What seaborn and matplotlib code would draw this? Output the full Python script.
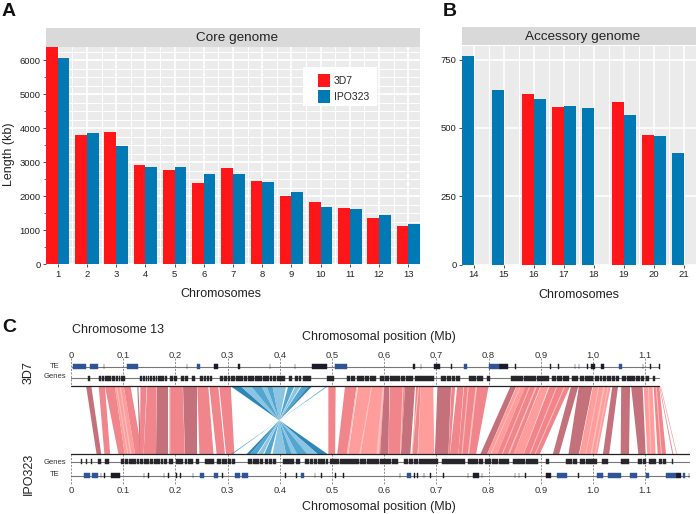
import numpy as np
import pandas as pd
import matplotlib
matplotlib.use('Agg')
import matplotlib.pyplot as plt
from matplotlib.patches import Rectangle
import seaborn as sns
from matplotlib.ticker import MultipleLocator

sns.set_theme(style='ticks')
plt.rcParams['font.family'] = ['Liberation Sans', 'DejaVu Sans']

# panel A
core_chrom = [str(i) for i in range(1, 14)]
core_3d7 = [6400, 3810, 3890, 2920, 2770, 2400, 2820, 2440, 2010, 1830, 1650, 1360, 1120]
core_ipo = [6080, 3850, 3490, 2870, 2850, 2660, 2650, 2430, 2130, 1670, 1620, 1450, 1180]

# panel B, nan where the strain has no such chromosome
acc_chrom = [str(i) for i in range(14, 22)]
acc_3d7 = [np.nan, np.nan, 623, 578, np.nan, 595, 473, np.nan]
acc_ipo = [762, 638, 605, 582, 573, 548, 470, 407]

# panel C synteny ribbons in Mb: top start, top end, bottom start, bottom end, shade
red_ribbons = [
    (0.029, 0.039, 0.049, 0.058, 'd'), (0.053, 0.065, 0.064, 0.075, 'm'),
    (0.065, 0.084, 0.091, 0.103, 'm'), (0.084, 0.101, 0.103, 0.123, 'l'),
    (0.101, 0.114, 0.123, 0.137, 'm'), (0.127, 0.129, 0.132, 0.135, 'd'),
    (0.133, 0.145, 0.132, 0.139, 'm'), (0.146, 0.164, 0.139, 0.163, 'm'),
    (0.164, 0.186, 0.163, 0.186, 'd'), (0.190, 0.214, 0.190, 0.218, 'm'),
    (0.215, 0.241, 0.218, 0.241, 'd'), (0.242, 0.263, 0.246, 0.273, 'm'),
    (0.265, 0.282, 0.279, 0.295, 'm'), (0.284, 0.306, 0.297, 0.313, 'm'),
    (0.493, 0.507, 0.493, 0.506, 'm'), (0.525, 0.547, 0.510, 0.530, 'm'),
    (0.550, 0.576, 0.531, 0.553, 'l'), (0.576, 0.600, 0.554, 0.592, 'l'),
    (0.600, 0.610, 0.592, 0.608, 'd'), (0.611, 0.640, 0.608, 0.632, 'm'),
    (0.640, 0.659, 0.632, 0.650, 'd'), (0.661, 0.670, 0.654, 0.664, 'm'),
    (0.670, 0.694, 0.665, 0.696, 'l'), (0.702, 0.728, 0.697, 0.723, 'd'),
    (0.729, 0.736, 0.723, 0.726, 'm'), (0.740, 0.752, 0.726, 0.742, 'm'),
    (0.753, 0.800, 0.742, 0.776, 'm'), (0.842, 0.853, 0.784, 0.797, 'd'),
    (0.854, 0.870, 0.797, 0.816, 'l'), (0.870, 0.899, 0.816, 0.848, 'm'),
    (0.900, 0.915, 0.848, 0.867, 'l'), (0.917, 0.956, 0.867, 0.898, 'm'),
    (0.958, 0.972, 0.923, 0.935, 'd'), (0.973, 0.999, 0.953, 0.973, 'd'),
    (1.000, 1.034, 0.974, 1.008, 'l'), (1.037, 1.048, 1.019, 1.031, 'd'),
    (1.054, 1.071, 1.053, 1.069, 'd'), (1.073, 1.095, 1.087, 1.101, 'd'),
    (1.097, 1.114, 1.104, 1.120, 'l'), (1.116, 1.127, 1.124, 1.140, 'm'),
    (1.127, 1.128, 1.152, 1.154, 'm'), (1.129, 1.130, 1.160, 1.161, 'm'),
]
# pale slits running through the red ribbons
red_slits = [
    (0.086, 0.088, 0.108, 0.110), (0.093, 0.095, 0.113, 0.116), (0.188, 0.190, 0.187, 0.190),
    (0.547, 0.549, 0.528, 0.531), (0.575, 0.577, 0.552, 0.555), (0.597, 0.600, 0.585, 0.590),
    (0.635, 0.637, 0.630, 0.632), (0.665, 0.667, 0.652, 0.654), (0.760, 0.762, 0.748, 0.750),
    (0.775, 0.778, 0.760, 0.763), (0.860, 0.862, 0.803, 0.805), (0.878, 0.880, 0.825, 0.827),
    (0.890, 0.893, 0.837, 0.840), (0.916, 0.917, 0.866, 0.867), (0.930, 0.932, 0.878, 0.880),
    (0.945, 0.947, 0.888, 0.890), (1.010, 1.012, 0.985, 0.987), (1.020, 1.023, 0.995, 0.998),
    (1.028, 1.030, 1.003, 1.005), (1.105, 1.107, 1.110, 1.112), (1.120, 1.122, 1.130, 1.132),
]
blue_ribbons = [
    (0.306, 0.325, 0.473, 0.492, 'd'), (0.325, 0.345, 0.453, 0.473, 'l'),
    (0.345, 0.365, 0.433, 0.453, 'm'), (0.365, 0.375, 0.423, 0.433, 'l'),
    (0.375, 0.386, 0.412, 0.423, 'm'), (0.386, 0.412, 0.386, 0.412, 'l'),
    (0.416, 0.428, 0.370, 0.382, 'm'), (0.430, 0.440, 0.358, 0.368, 'l'),
    (0.442, 0.455, 0.343, 0.356, 'm'), (0.455, 0.462, 0.336, 0.343, 'd'),
    (0.489, 0.492, 0.306, 0.309, 'm'),
]

# gene and TE blocks in Mb, start and end
genes_top = [
    (0.032, 0.036), (0.054, 0.058), (0.059, 0.063), (0.066, 0.070), (0.071, 0.076),
    (0.078, 0.085), (0.086, 0.090), (0.091, 0.094), (0.095, 0.099), (0.100, 0.103),
    (0.133, 0.136), (0.138, 0.141), (0.143, 0.146), (0.147, 0.150), (0.152, 0.156),
    (0.157, 0.161), (0.162, 0.165), (0.167, 0.172), (0.173, 0.178), (0.180, 0.183),
    (0.190, 0.196), (0.198, 0.203), (0.210, 0.216), (0.218, 0.225), (0.232, 0.238),
    (0.248, 0.253), (0.254, 0.258), (0.260, 0.265), (0.266, 0.270), (0.285, 0.292),
    (0.294, 0.299), (0.300, 0.305), (0.306, 0.310), (0.311, 0.315), (0.317, 0.323),
    (0.324, 0.330), (0.332, 0.338), (0.339, 0.344), (0.345, 0.350), (0.352, 0.358),
    (0.359, 0.365), (0.367, 0.373), (0.374, 0.380), (0.381, 0.386), (0.387, 0.392),
    (0.395, 0.402), (0.403, 0.410), (0.417, 0.423), (0.430, 0.435), (0.436, 0.440),
    (0.445, 0.452), (0.453, 0.460), (0.490, 0.496), (0.497, 0.503), (0.528, 0.535),
    (0.536, 0.545), (0.547, 0.553), (0.554, 0.562), (0.563, 0.570), (0.572, 0.578),
    (0.579, 0.585), (0.592, 0.600), (0.601, 0.610), (0.612, 0.620), (0.621, 0.630),
    (0.632, 0.640), (0.641, 0.649), (0.650, 0.656), (0.659, 0.668), (0.669, 0.680),
    (0.681, 0.695), (0.709, 0.718), (0.720, 0.728), (0.729, 0.736), (0.737, 0.745),
    (0.762, 0.768), (0.769, 0.775), (0.777, 0.783), (0.784, 0.790), (0.796, 0.802),
    (0.842, 0.850), (0.851, 0.858), (0.859, 0.865), (0.867, 0.875), (0.876, 0.883),
    (0.884, 0.890), (0.892, 0.900), (0.901, 0.908), (0.909, 0.915), (0.922, 0.930),
    (0.931, 0.940), (0.943, 0.954), (0.960, 0.972), (0.975, 0.983), (0.984, 0.992),
    (0.993, 1.000), (1.003, 1.012), (1.013, 1.018), (1.019, 1.025), (1.027, 1.035),
    (1.036, 1.043), (1.044, 1.050), (1.056, 1.064), (1.065, 1.072), (1.073, 1.080),
    (1.083, 1.090), (1.091, 1.098), (1.101, 1.108), (1.114, 1.119),
]
genes_bot = [
    (0.020, 0.021), (0.029, 0.030), (0.038, 0.040), (0.051, 0.057), (0.065, 0.073),
    (0.095, 0.102), (0.103, 0.110), (0.112, 0.118), (0.119, 0.125), (0.126, 0.131),
    (0.132, 0.137), (0.140, 0.145), (0.146, 0.150), (0.152, 0.158), (0.159, 0.164),
    (0.165, 0.170), (0.172, 0.177), (0.178, 0.183), (0.187, 0.191), (0.192, 0.196),
    (0.202, 0.208), (0.209, 0.215), (0.218, 0.223), (0.224, 0.229), (0.230, 0.234),
    (0.240, 0.245), (0.257, 0.264), (0.265, 0.273), (0.280, 0.288), (0.289, 0.298),
    (0.300, 0.307), (0.308, 0.314), (0.340, 0.347), (0.348, 0.354), (0.355, 0.361),
    (0.362, 0.368), (0.371, 0.378), (0.379, 0.386), (0.387, 0.393), (0.406, 0.413),
    (0.414, 0.421), (0.422, 0.428), (0.431, 0.439), (0.449, 0.456), (0.457, 0.464),
    (0.465, 0.472), (0.473, 0.480), (0.481, 0.487), (0.488, 0.493), (0.496, 0.505),
    (0.506, 0.514), (0.515, 0.524), (0.525, 0.534), (0.535, 0.552), (0.554, 0.565),
    (0.567, 0.578), (0.579, 0.590), (0.592, 0.601), (0.602, 0.613), (0.614, 0.627),
    (0.637, 0.646), (0.647, 0.656), (0.657, 0.665), (0.667, 0.678), (0.679, 0.691),
    (0.692, 0.704), (0.710, 0.720), (0.721, 0.731), (0.732, 0.743), (0.744, 0.755),
    (0.760, 0.770), (0.771, 0.780), (0.781, 0.790), (0.793, 0.805), (0.806, 0.818),
    (0.819, 0.829), (0.830, 0.840), (0.847, 0.858), (0.859, 0.870), (0.871, 0.883),
    (0.884, 0.895), (0.910, 0.916), (0.949, 0.960), (0.961, 0.970), (0.976, 0.985),
    (0.986, 0.996), (0.997, 1.008), (1.018, 1.029), (1.053, 1.061), (1.062, 1.069),
    (1.087, 1.094), (1.095, 1.102), (1.108, 1.114), (1.115, 1.121), (1.127, 1.133),
    (1.134, 1.140), (1.152, 1.153),
]
te_top_dark = [
    (0.063, 0.064), (0.222, 0.223), (0.273, 0.282), (0.320, 0.323), (0.381, 0.382),
    (0.429, 0.430), (0.461, 0.490), (0.656, 0.659), (0.670, 0.671), (0.696, 0.707),
    (0.728, 0.729), (0.819, 0.838), (0.851, 0.852), (0.917, 0.919), (0.933, 0.934),
    (0.965, 0.966), (0.973, 0.974), (0.989, 0.990), (0.997, 1.003), (1.016, 1.021),
    (1.095, 1.096), (1.110, 1.111), (1.127, 1.128),
]
te_top_blue = [
    (0.004, 0.029), (0.036, 0.052), (0.107, 0.129), (0.241, 0.248), (0.506, 0.528),
    (0.752, 0.758), (0.800, 0.819), (1.050, 1.055),
]
te_bot_dark = [
    (0.057, 0.058), (0.064, 0.065), (0.077, 0.094), (0.139, 0.140), (0.148, 0.149),
    (0.178, 0.179), (0.186, 0.188), (0.202, 0.203), (0.209, 0.210), (0.233, 0.234),
    (0.290, 0.291), (0.410, 0.411), (0.431, 0.432), (0.467, 0.468), (0.478, 0.480),
    (0.506, 0.507), (0.522, 0.523), (0.630, 0.631), (0.657, 0.659), (0.662, 0.664),
    (0.676, 0.677), (0.688, 0.689), (0.713, 0.714), (0.760, 0.761), (0.770, 0.781),
    (0.787, 0.788), (0.850, 0.851), (0.858, 0.859), (0.870, 0.871), (0.910, 0.920),
    (0.971, 0.973), (1.159, 1.169), (1.183, 1.184),
]
te_bot_blue = [
    (0.024, 0.036), (0.040, 0.051), (0.247, 0.255), (0.273, 0.282), (0.314, 0.324),
    (0.327, 0.340), (0.440, 0.447), (0.644, 0.651), (0.931, 0.951), (1.007, 1.020),
    (1.029, 1.053), (1.071, 1.084), (1.101, 1.108), (1.140, 1.159), (1.172, 1.176),
]
mb_ticks = [0, 0.1, 0.2, 0.3, 0.4, 0.5, 0.6, 0.7, 0.8, 0.9, 1.0, 1.1]
mb_labels = ['0', '0.1', '0.2', '0.3', '0.4', '0.5', '0.6', '0.7', '0.8', '0.9', '1.0', '1.1']

W, H = 696, 514
RED, BLUE = '#FE1618', '#0079B5'
red_shades = {'l': '#FF9C9C', 'm': '#F0858C', 'd': '#C5717C'}
blue_shades = {'l': '#7FBFE0', 'm': '#3F9CCB', 'd': '#1579AE'}


def px_axes(x0, y0, x1, y1):
    # axes from pixel box, y counted from the top
    return fig.add_axes([x0 / W, 1 - y1 / H, (x1 - x0) / W, (y1 - y0) / H])


def style_panel(ax, n, ymax, major, tick_minor, grid_minor):
    ax.set_xlim(-0.4, n - 0.6)
    ax.set_ylim(0, ymax)
    ax.set_facecolor('#EBEBEB')
    ax.yaxis.set_major_locator(MultipleLocator(major))
    if tick_minor:
        ax.yaxis.set_minor_locator(MultipleLocator(tick_minor))
    ax.grid(True, which='major', color='white', lw=1.2, zorder=0)
    if grid_minor:
        for y in np.arange(grid_minor, ymax, grid_minor):
            ax.axhline(y, color='white', lw=0.7, zorder=0)
    for x in np.arange(0.5, n - 1, 1):
        ax.axvline(x, color='white', lw=0.7, zorder=0)
    ax.set_axisbelow(True)
    sns.despine(ax=ax, left=True, bottom=True)
    ax.tick_params(axis='both', which='major', labelsize=6.8, length=2, width=0.6, pad=2,
                   color='#333333', labelcolor='#222222')
    ax.tick_params(axis='y', which='minor', length=1.5, width=0.5, color='#333333')


def strip(x0, y0, x1, y1, label, tx):
    s = px_axes(x0, y0, x1, y1)
    s.set_facecolor('#D9D9D9')
    s.set_xticks([])
    s.set_yticks([])
    for sp in s.spines.values():
        sp.set_visible(False)
    s.text(tx, 0.47, label, ha='center', va='center', fontsize=9.7, color='#222222',
           transform=s.transAxes)


def blocks(ax, spans, y, h, color):
    for start, end in spans:
        ax.fill_between([start, end], y - h / 2, y + h / 2, color=color, lw=0.3, zorder=4)


fig = plt.figure(figsize=(W / 100, H / 100), dpi=100)

# panel A
ax_a = px_axes(46, 47, 420, 264)
df_a = pd.DataFrame({'chrom': core_chrom, '3D7': core_3d7, 'IPO323': core_ipo})
df_a = df_a.melt(id_vars='chrom', var_name='strain', value_name='length')
sns.barplot(data=df_a, x='chrom', y='length', hue='strain', ax=ax_a, width=0.8, gap=0,
            palette={'3D7': RED, 'IPO323': BLUE}, saturation=1, linewidth=0, zorder=3)
style_panel(ax_a, len(core_chrom), 6395, 1000, 500, 250)
ax_a.set_xlabel('Chromosomes', fontsize=9, labelpad=7, color='#222222', x=0.467)
ax_a.set_ylabel('Length (kb)', fontsize=9, labelpad=3, color='#222222', y=0.505)
ax_a.add_patch(Rectangle(((303 - 46) / 374, (264 - 106) / 217), 74 / 374, 39 / 217,
                         transform=ax_a.transAxes, fc='white', ec='none', zorder=4))
ax_a.legend(title=None, loc='upper left', bbox_to_anchor=((318 - 46) / 374, (264 - 74) / 217),
            fontsize=7.5, frameon=False, handlelength=1.15, handleheight=1.5, handletextpad=0.35,
            labelspacing=0.3, borderpad=0, borderaxespad=0)
strip(46, 28, 420, 47, 'Core genome', 0.51)

# panel B, in the reference a chromosome with one strain sits in the left slot
ax_b = px_axes(462, 46, 696, 264.5)
left_slot = [b if np.isnan(a) else a for a, b in zip(acc_3d7, acc_ipo)]
right_slot = [np.nan if np.isnan(a) else b for a, b in zip(acc_3d7, acc_ipo)]
df_b = pd.DataFrame({'chrom': acc_chrom, 'left': left_slot, 'right': right_slot})
df_b = df_b.melt(id_vars='chrom', var_name='slot', value_name='length')
sns.barplot(data=df_b, x='chrom', y='length', hue='slot', ax=ax_b, width=0.8, gap=0,
            palette={'left': RED, 'right': BLUE}, saturation=1, linewidth=0, zorder=3, legend=False)
for bar, a in zip(ax_b.containers[0], acc_3d7):
    bar.set_facecolor(BLUE if np.isnan(a) else RED)
style_panel(ax_b, len(acc_chrom), 800, 250, None, None)
ax_b.set_xlabel('Chromosomes', fontsize=9, labelpad=7, color='#222222')
ax_b.set_ylabel('')
strip(462, 27, 696, 45, 'Accessory genome', 0.517)

# panel C, y is in figure pixels so the tracks line up with the rest
ax_c = px_axes(71, 358, 690, 485)
ax_c.set_xlim(0, 619 / 522)
ax_c.set_ylim(485, 358)
ax_c.patch.set_visible(False)
for sp in ax_c.spines.values():
    sp.set_visible(False)
ax_c.grid(False)
ax_c.set_yticks([])
ax_c.set_xticks(mb_ticks, mb_labels)
ax_c.tick_params(axis='x', length=0, pad=1, labelsize=6.8, labelcolor='#333333')
top_ax = ax_c.secondary_xaxis('top')
top_ax.set_xticks(mb_ticks, mb_labels)
top_ax.tick_params(axis='x', length=0, pad=-1.5, labelsize=6.8, labelcolor='#333333')
for sp in top_ax.spines.values():
    sp.set_visible(False)

Y_TOP, Y_BOT = 386.3, 454.3
for t0, t1, b0, b1, shade in red_ribbons:
    ax_c.fill([t0, t1, b1, b0], [Y_TOP, Y_TOP, Y_BOT, Y_BOT], color=red_shades[shade], lw=0, zorder=2)
for t0, t1, b0, b1 in red_slits:
    ax_c.fill([t0, t1, b1, b0], [Y_TOP, Y_TOP, Y_BOT, Y_BOT], color='#FFC0BC', lw=0, zorder=2.1)
for t0, t1, b0, b1, shade in blue_ribbons:
    # inverted block, the ribbon crosses over itself
    ax_c.fill([t0, t1, b0, b1], [Y_TOP, Y_TOP, Y_BOT, Y_BOT], color=blue_shades[shade], lw=0,
              alpha=0.9, zorder=2)
for m in mb_ticks:
    ax_c.plot([m, m], [358, Y_TOP], color='#666666', lw=0.5, ls=(0, (3, 2)), zorder=1)
    ax_c.plot([m, m], [Y_BOT, 485], color='#666666', lw=0.5, ls=(0, (3, 2)), zorder=1)

ax_c.plot([0, 1.127], [Y_TOP, Y_TOP], color='#222222', lw=0.9, zorder=3)
ax_c.plot([0, 1.187], [Y_BOT, Y_BOT], color='#222222', lw=0.9, zorder=3)
ax_c.plot([0.002, 1.127], [366.7, 366.7], color='#777777', lw=0.8, zorder=3)
ax_c.plot([0, 1.127], [378.3, 378.3], color='#777777', lw=0.8, zorder=3)
ax_c.plot([0, 1.187], [461.7, 461.7], color='#777777', lw=0.8, zorder=3)
ax_c.plot([0, 1.187], [475.7, 475.7], color='#777777', lw=0.8, zorder=3)

blocks(ax_c, genes_top, 378.3, 4.5, '#26262B')
blocks(ax_c, genes_bot, 461.7, 4.5, '#26262B')
blocks(ax_c, te_top_dark, 366.7, 4.5, '#1B1B2A')
blocks(ax_c, te_top_blue, 366.7, 4.5, '#2F5597')
blocks(ax_c, te_bot_dark, 475.7, 4.5, '#1B1B2A')
blocks(ax_c, te_bot_blue, 475.7, 4.5, '#2F5597')


# free text placed in pixels
def txt(x, y, s, **kw):
    fig.text(x / W, 1 - y / H, s, va='center', **kw)


txt(2, 11, 'A', fontsize=14, fontweight='bold', color='#111111')
txt(443, 11, 'B', fontsize=14, fontweight='bold', color='#111111')
txt(2, 327, 'C', fontsize=14, fontweight='bold', color='#111111')
txt(72, 330, 'Chromosome 13', fontsize=9, color='#222222')
txt(379, 337, 'Chromosomal position (Mb)', fontsize=9, ha='center', color='#222222')
txt(379, 507, 'Chromosomal position (Mb)', fontsize=9, ha='center', color='#222222')
txt(29, 373, '3D7', fontsize=9, rotation=90, ha='center', color='#222222')
txt(29, 474, 'IPO323', fontsize=9, rotation=90, ha='center', color='#222222')
txt(55, 366, 'TE', fontsize=5.5, ha='center', color='#333333')
txt(55, 377, 'Genes', fontsize=5.5, ha='center', color='#333333')
txt(55, 462, 'Genes', fontsize=5.5, ha='center', color='#333333')
txt(55, 475, 'TE', fontsize=5.5, ha='center', color='#333333')

fig.savefig('out.png', dpi=100, facecolor='white')
